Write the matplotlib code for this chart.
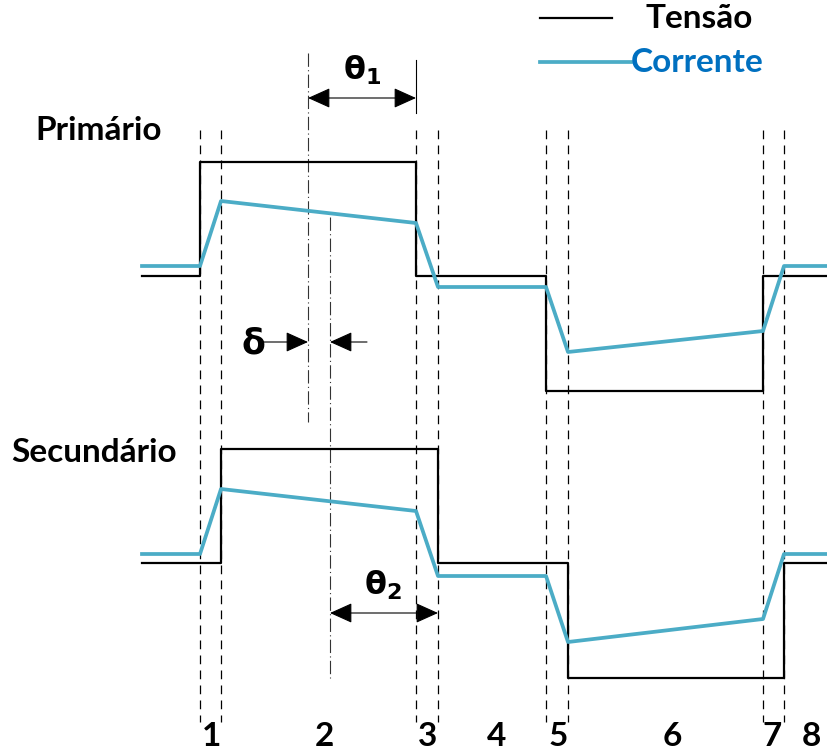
import matplotlib
matplotlib.use("Agg")
import matplotlib.pyplot as plt
from matplotlib.patches import FancyArrowPatch

# switching instants (x positions of the dashed lines)
t_edges = [200, 221, 416, 438, 546, 568, 763, 784]
x_start, x_end = 142, 827

# primary: voltage and current (y positions, top is 0)
prim_v_x = [x_start, 200, 200, 416, 416, 546, 546, 763, 763, x_end]
prim_v_y = [276, 276, 162, 162, 276, 276, 391, 391, 276, 276]
prim_i_x = [x_start, 200, 221, 416, 438, 546, 568, 763, 784, x_end]
prim_i_y = [266, 266, 201, 223, 287, 287, 352, 331, 266, 266]

# secondary: voltage and current
sec_v_x = [x_start, 221, 221, 438, 438, 568, 568, 784, 784, x_end]
sec_v_y = [563, 563, 449, 449, 563, 563, 678, 678, 563, 563]
sec_i_x = [x_start, 200, 221, 416, 438, 546, 568, 763, 784, x_end]
sec_i_y = [554, 554, 489, 511, 576, 576, 642, 619, 554, 554]

interval_labels = ["1", "2", "3", "4", "5", "6", "7", "8"]
interval_x = [212, 324, 428, 497, 558, 672, 772, 811]

v_color = "black"
i_color = "#4BACC6"
txt_font = "Lato"

fig = plt.figure(figsize=(8.27, 7.54), dpi=100)
ax = fig.add_axes([0, 0, 1, 1])
ax.set_xlim(0, 827)
ax.set_ylim(754, 0)
ax.axis("off")

# dashed boundaries
for xe in t_edges:
    ax.plot([xe, xe], [130, 722], color="black", lw=0.9, linestyle=(0, (7, 5)))

# dash-dot reference lines
ax.plot([308, 308], [53, 422], color="#333333", lw=0.8, linestyle=(0, (12, 3, 1, 3)))
ax.plot([330, 330], [217, 678], color="#333333", lw=0.8, linestyle=(0, (12, 3, 1, 3)))
ax.plot([416, 416], [60, 113], color="black", lw=0.8)

# waveforms
ax.plot(prim_v_x, prim_v_y, color=v_color, lw=1.6)
ax.plot(prim_i_x, prim_i_y, color=i_color, lw=2.7)
ax.plot(sec_v_x, sec_v_y, color=v_color, lw=1.6)
ax.plot(sec_i_x, sec_i_y, color=i_color, lw=2.7)


def arrow(x0, y0, x1, y1, style):
    p = FancyArrowPatch((x0, y0), (x1, y1), arrowstyle=style, mutation_scale=14,
                        color="black", lw=0.8, shrinkA=0, shrinkB=0)
    ax.add_patch(p)


arrow(308, 98, 416, 98, "<|-|>,head_length=1.0,head_width=0.45")
arrow(330, 613, 438, 613, "<|-|>,head_length=1.0,head_width=0.45")
arrow(263, 342, 308, 342, "-|>,head_length=1.0,head_width=0.45")
arrow(367, 342, 330, 342, "-|>,head_length=1.0,head_width=0.45")

ax.text(362, 70, r"$\mathbf{\theta_1}$", fontsize=23, ha="center", va="center")
ax.text(383, 585, r"$\mathbf{\theta_2}$", fontsize=23, ha="center", va="center")
ax.text(253, 343, "δ", fontsize=25, fontweight="bold", ha="center", va="center",
        family="DejaVu Sans")

ax.text(35, 130, "Primário", fontsize=24, fontweight="bold", ha="left", va="center",
        family=txt_font)
ax.text(11, 452, "Secundário", fontsize=24, fontweight="bold", ha="left", va="center",
        family=txt_font)

for lab, xl in zip(interval_labels, interval_x):
    ax.text(xl, 737, lab, fontsize=24, fontweight="bold", ha="center", va="center",
            family=txt_font)

# legend
ax.plot([540, 612], [18, 18], color=v_color, lw=1.6)
ax.text(645, 19, "Tensão", fontsize=24, fontweight="bold", ha="left", va="center",
        family=txt_font)
ax.plot([540, 631], [62, 62], color=i_color, lw=2.7)
ax.text(631, 62, "Corrente", fontsize=24, fontweight="bold", ha="left", va="center",
        color="#0070C0", family=txt_font)

fig.savefig("out.png", dpi=100)
